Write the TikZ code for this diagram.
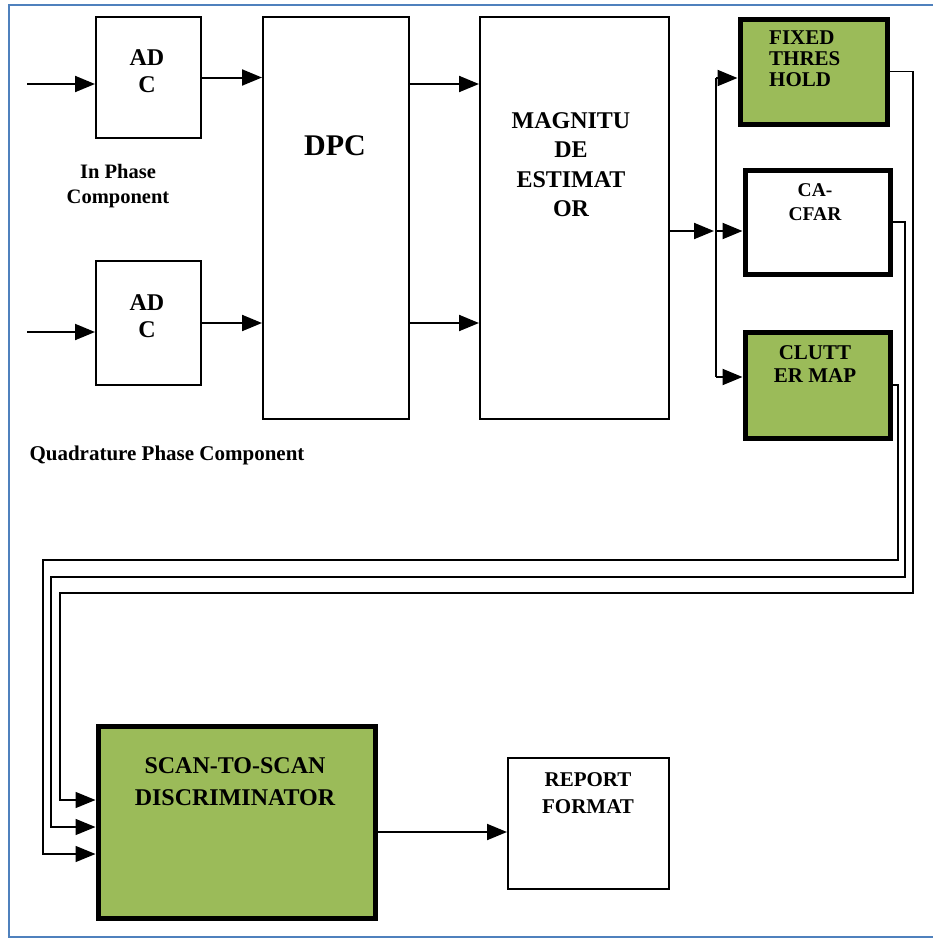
\documentclass[tikz,border=0pt]{standalone}
\usepackage{fontspec}
\setmainfont{Liberation Serif}
\usetikzlibrary{positioning}
\usetikzlibrary{arrows.meta}
\definecolor{olivegreen}{HTML}{9BBB59}
\definecolor{frameblue}{HTML}{4F81BD}
\tikzset{
block/.style={rectangle, draw, line width=2pt, anchor=north west, inner sep=0pt},
heavy_block/.style={block, line width=5pt},
caption/.style={font=\bfseries\fontsize{21}{25}\selectfont, align=center, anchor=north, inner sep=0pt},
wire/.style={line width=2pt, ->},
feed/.style={line width=1.5pt, ->}
}

\begin{document}
\begin{tikzpicture}[x=1pt, y=-1pt, >={Triangle[length=20pt, width=16pt]}]
    \useasboundingbox (0,0) rectangle (933,938);
    \draw[frameblue, line width=2pt] (933,5) -- (9,5) -- (9,937) -- (933,937);

    % front end
    \node[block, minimum width=105pt, minimum height=121pt] (adc_i) at (95,16) {};
    \node[block, minimum width=105pt, minimum height=124pt] (adc_q) at (95,260) {};
    \node[block, minimum width=146pt, minimum height=402pt] (dpc) at (262,16) {};
    \node[block, minimum width=189pt, minimum height=402pt] (mag) at (479,16) {};

    \node[caption, font=\bfseries\fontsize{24}{27}\selectfont] (adc_i_text) at (147,49) {AD\\C};
    \node[caption, font=\bfseries\fontsize{24}{27}\selectfont] (adc_q_text) at (147,294) {AD\\C};
    \node[caption, font=\bfseries\fontsize{20.5}{25}\selectfont] (in_phase) at (118,164) {In Phase\\Component};
    \node[caption] (quad_phase) at (167,446) {Quadrature Phase Component};
    \node[caption, font=\bfseries\fontsize{30}{34}\selectfont] (dpc_text) at (335,135) {DPC};
    \node[caption, font=\bfseries\fontsize{24}{29.5}\selectfont] (mag_text) at (571,112) {MAGNITU\\DE\\ESTIMAT\\OR};

    % detectors
    \node[heavy_block, fill=olivegreen, minimum width=147pt, minimum height=105pt] (fixed) at (737.5,16.5) {};
    \node[heavy_block, fill=white, minimum width=145pt, minimum height=104pt] (cfar) at (742.5,167.5) {};
    \node[heavy_block, fill=olivegreen, minimum width=145pt, minimum height=106pt] (clutter) at (742.5,329.5) {};

    \node[caption, align=left, anchor=north west, font=\bfseries\fontsize{21}{21}\selectfont] (fixed_text) at (769,31) {FIXED\\THRES\\HOLD};
    \node[caption, font=\bfseries\fontsize{19.5}{24}\selectfont] (cfar_text) at (815,183) {CA-\\CFAR};
    \node[caption, font=\bfseries\fontsize{21}{23}\selectfont] (clutter_text) at (815,345) {CLUTT\\ER MAP};

    % back end
    \node[heavy_block, fill=olivegreen, minimum width=277pt, minimum height=192pt] (scan) at (95.5,723.5) {};
    \node[block, minimum width=161pt, minimum height=131pt] (report) at (507,757) {};

    \node[caption, font=\bfseries\fontsize{24}{32}\selectfont] (scan_text) at (235,757) {SCAN-TO-SCAN\\DISCRIMINATOR};
    \node[caption, font=\bfseries\fontsize{21}{27}\selectfont] (report_text) at (588,772) {REPORT\\FORMAT};

    % inputs
    \coordinate (in_i) at (27,84);
    \coordinate (in_q) at (27,332);
    \draw[wire] (in_i) -- (in_i -| adc_i.west);
    \draw[wire] (in_q) -- (in_q -| adc_q.west);
    \draw[wire] (adc_i.east) -- (adc_i.east -| dpc.west);
    \draw[wire] (adc_q.east) -- (adc_q.east -| dpc.west);
    \draw[wire] (dpc.east |- in_i) -- (mag.west |- in_i);
    \draw[wire] (dpc.east |- adc_q.east) -- (mag.west |- adc_q.east);

    % branch to detectors
    \coordinate (branch) at (716,231);
    \draw[wire, shorten >=2pt] (mag.east |- branch) -- (branch);
    \draw[line width=2pt] (branch |- 0,78) -- (branch |- 0,377);
    \draw[wire] (branch |- 0,78) -- (fixed.west |- 0,78);
    \draw[wire] (branch) -- (branch -| cfar.west);
    \draw[wire] (branch |- 0,377) -- (clutter.west |- 0,377);

    % detector outputs
    \draw[feed] (fixed.east) -| (913,593) -| (60,800) -- (scan.west |- 60,800);
    \draw[feed] (cfar.east) -| (905,577) -| (51,827) -- (scan.west |- 51,827);
    \draw[feed] (clutter.east) -| (898,560) -| (43,854) -- (scan.west |- 43,854);

    \draw[wire] ([yshift=-10pt]scan.east) -- ([yshift=-10pt]scan.east -| report.west);
\end{tikzpicture}
\end{document}
